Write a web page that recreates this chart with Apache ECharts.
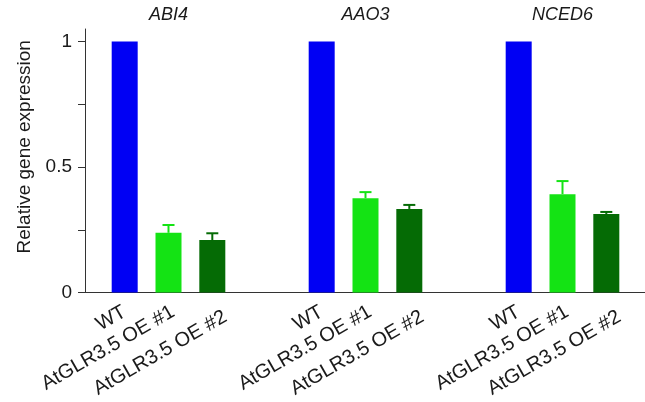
<!DOCTYPE html>
<html><head><meta charset="utf-8">
<script src="https://cdn.jsdelivr.net/npm/echarts@6/dist/echarts.min.js"></script>
<style>html,body{margin:0;padding:0;background:#fff}#c{width:645px;height:402px}</style>
</head><body><div id="c"></div>
<script>
// ---- data ----
const genes = ['ABI4', 'AAO3', 'NCED6'];
const lines = ['WT', 'AtGLR3.5 OE #1', 'AtGLR3.5 OE #2'];
const wtValues = [1, 1, 1];
const oe1Values = [0.238, 0.376, 0.392];
const oe2Values = [0.209, 0.333, 0.313];
const wtErrors = [0, 0, 0];
const oe1Errors = [0.031, 0.024, 0.052];
const oe2Errors = [0.027, 0.016, 0.008];
const yTickValues = [0, 0.25, 0.5, 0.75, 1];
const yLabelValues = [0, 0.5, 1];

// ---- style ----
const FONT = "'Liberation Sans', Arial, sans-serif";
const colors = ['#0000f4', '#14e314', '#056b05'];
const BAR_W = 26, BAR_GAP = 0.685;
const BAR_STEP = BAR_W * (1 + BAR_GAP);
const CAP = 6;
const LABEL_ROT = 30;
// desired on-screen shifts of each label anchor, converted to the rotated label frame
const screenShifts = [[0, 18], [4.7, 18], [13, 23]];
const rad = LABEL_ROT * Math.PI / 180;
const labelOffsets = screenShifts.map(([sx, sy]) => [
  sx * Math.cos(rad) - sy * Math.sin(rad),
  sx * Math.sin(rad) + sy * Math.cos(rad)
]);
const TOP = 29, BOTTOM = 109.5;

const chart = echarts.init(document.getElementById('c'), null, {renderer: 'canvas'});

const valueSets = [wtValues, oe1Values, oe2Values];
const errSets = [wtErrors, oe1Errors, oe2Errors];

const series = [];
valueSets.forEach((vals, k) => {
  series.push({
    type: 'bar', name: lines[k], xAxisIndex: 1, yAxisIndex: 1,
    data: vals, barWidth: BAR_W, barGap: (BAR_GAP * 100) + '%',
    itemStyle: {color: colors[k]},
    label: {
      show: true, position: 'bottom', distance: 0, rotate: LABEL_ROT,
      align: 'right', verticalAlign: 'middle', offset: labelOffsets[k],
      formatter: lines[k], fontSize: 20, color: '#1a1a1a', fontFamily: FONT
    },
    z: 2
  });
});
errSets.forEach((errs, k) => {
  series.push({
    type: 'custom', xAxisIndex: 1, yAxisIndex: 1, z: 3,
    encode: {x: 0, y: 1},
    data: valueSets[k].map((v, i) => [i, v, errs[i]]),
    renderItem: (params, api) => {
      const i = api.value(0), v = api.value(1), e = api.value(2);
      if (!e) return null;
      const p0 = api.coord([i, v]);
      const p1 = api.coord([i, v + e]);
      const x = p0[0] + (k - 1) * BAR_STEP;
      const st = {stroke: colors[k], lineWidth: 2};
      return {type: 'group', children: [
        {type: 'line', shape: {x1: x, y1: p0[1], x2: x, y2: p1[1]}, style: st},
        {type: 'line', shape: {x1: x - CAP, y1: p1[1], x2: x + CAP, y2: p1[1]}, style: st}
      ]};
    }
  });
});

chart.setOption({
  animation: false,
  backgroundColor: '#fff',
  grid: [
    {left: 85, right: 0, top: TOP, bottom: BOTTOM, outerBoundsMode: 'none'},
    {left: 70, width: 591, top: TOP, bottom: BOTTOM, outerBoundsMode: 'none'}
  ],
  xAxis: [
    {type: 'value', gridIndex: 0, min: 0, max: 1,
     axisLine: {show: true, lineStyle: {color: '#333', width: 1}},
     axisTick: {show: false}, axisLabel: {show: false}, splitLine: {show: false}},
    {type: 'category', gridIndex: 1, data: genes,
     axisLine: {show: false}, axisTick: {show: false}, axisLabel: {show: false}},
    {type: 'category', gridIndex: 1, position: 'top', data: genes,
     axisLine: {show: false}, axisTick: {show: false},
     axisLabel: {show: true, margin: 5, fontSize: 18, fontStyle: 'italic', color: '#1a1a1a', fontFamily: FONT}}
  ],
  yAxis: [
    {type: 'value', gridIndex: 0, min: 0, max: 1.05,
     name: 'Relative gene expression', nameLocation: 'middle', nameGap: 50,
     nameTextStyle: {fontSize: 19, color: '#1a1a1a', fontFamily: FONT, padding: [0, 0, 0, 28]},
     axisLine: {show: true, lineStyle: {color: '#333', width: 1}},
     axisTick: {show: true, length: 7, customValues: yTickValues, lineStyle: {color: '#333'}},
     axisLabel: {show: true, margin: 13, fontSize: 19, color: '#1a1a1a', fontFamily: FONT,
                 customValues: yLabelValues, formatter: v => String(v)},
     splitLine: {show: false}},
    {type: 'value', gridIndex: 1, min: 0, max: 1.05, show: false}
  ],
  series: series
});
</script>
</body></html>
